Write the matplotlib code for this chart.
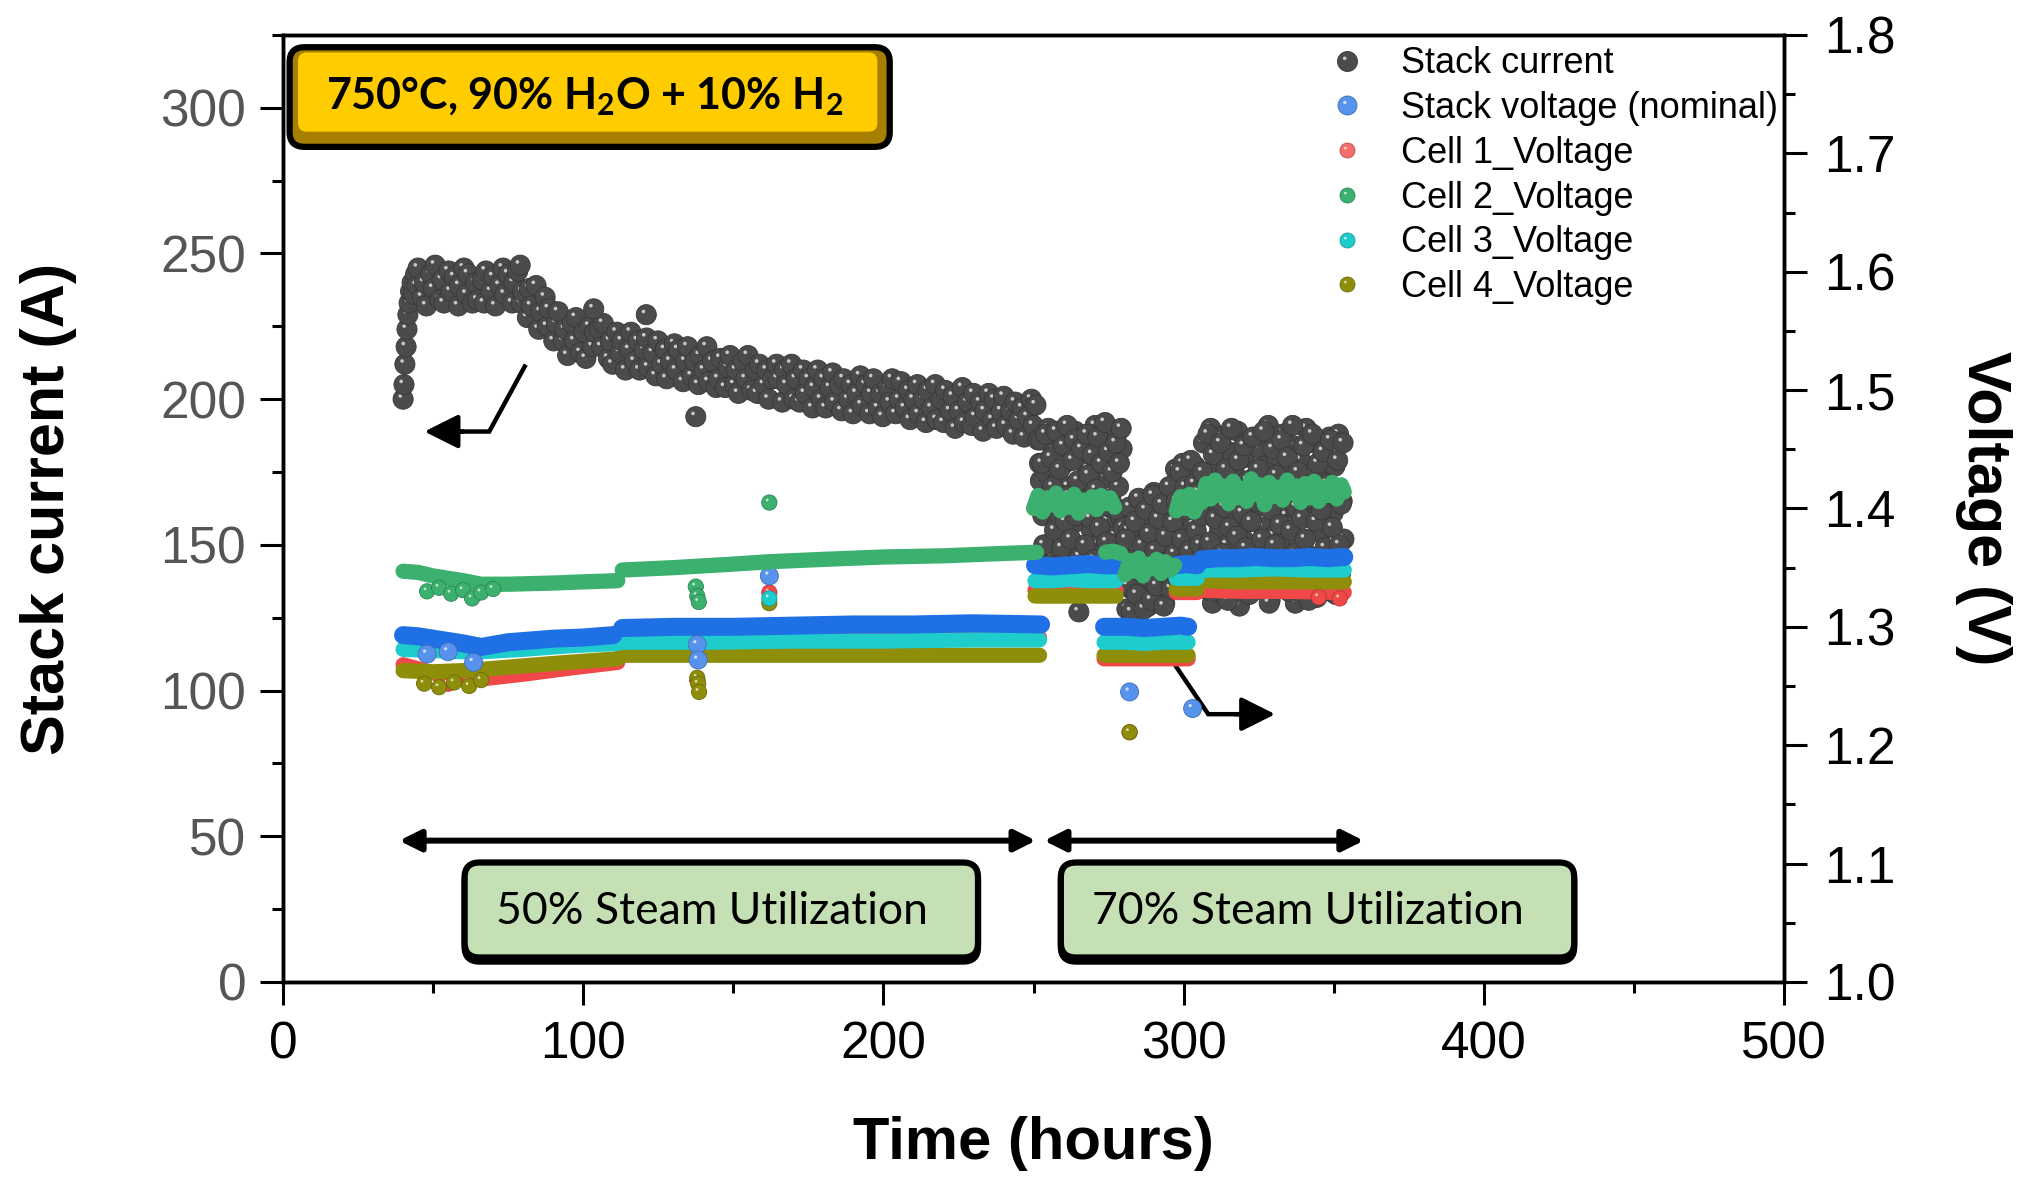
import numpy as np
import matplotlib
matplotlib.use('Agg')
import matplotlib.pyplot as plt
import matplotlib.colors as mcolors
import matplotlib.transforms as mtransforms
from matplotlib.patches import FancyBboxPatch
from matplotlib.path import Path
from matplotlib.lines import Line2D
from matplotlib.markers import MarkerStyle
from matplotlib.collections import PathCollection
from matplotlib.legend_handler import HandlerTuple
from matplotlib.ticker import MultipleLocator, FormatStrFormatter

nan = np.nan

# ---------------------------------------------------------
# data
# ---------------------------------------------------------
# stack current, 50 % steam utilisation (hours, A)
cur_time_50 = [
    40.0, 40.3, 40.6, 41.0, 41.3, 41.6, 42.0, 42.5, 43.0, 43.6, 44.2, 44.6,
    45.0, 46.4, 47.1, 47.8, 49.2, 50.1, 50.7, 52.3, 53.0, 53.6, 55.2, 55.9, 57.1, 58.4, 58.8, 60.3, 61.2, 61.7, 63.1, 64.2,
    64.8, 66.3, 67.0, 67.6, 69.4, 70.1, 70.8, 72.2, 73.3, 73.9, 75.1, 76.4, 76.9, 78.2, 79.3, 79.8, 81.4, 82.1, 82.7, 84.3,
    85.2, 85.9, 87.3, 88.0, 88.6, 90.2, 91.1, 91.7, 93.4, 94.0, 94.8, 96.3, 97.1, 97.6, 99.2, 100.3, 100.9, 102.1, 103.2, 103.8,
    105.3, 106.1, 106.7, 108.4, 109.0, 109.8, 111.2, 112.3, 112.9, 114.1, 115.4, 115.9, 117.2, 118.3, 118.8, 120.4, 121.1, 121.7, 123.3, 124.2,
    124.9, 126.2, 127.3, 127.8, 129.1, 130.4, 131.0, 131.7, 133.3, 134.1, 134.8, 136.2, 137.1, 138.4, 138.9, 140.3, 141.2, 141.8, 143.1, 144.3,
    145.1, 145.8, 147.3, 148.2, 148.9, 150.4, 151.0, 151.7, 153.3, 154.2, 154.9, 156.1, 157.4, 158.0, 158.7, 160.3, 161.2, 161.8, 163.1, 164.4,
    164.9, 166.3, 167.1, 167.8, 169.4, 170.2, 170.9, 172.1, 173.3, 173.9, 175.2, 176.4, 176.9, 178.1, 179.3, 180.2, 180.8, 182.3, 183.1, 183.8,
    185.3, 186.1, 186.8, 188.4, 189.2, 189.9, 191.1, 192.3, 192.8, 194.2, 195.4, 196.0, 196.7, 198.3, 199.1, 199.8, 201.4, 202.2, 202.9, 204.1,
    205.3, 205.9, 207.2, 208.4, 208.9, 210.1, 211.3, 211.8, 213.4, 214.2, 214.9, 216.1, 217.3, 217.8, 219.4, 220.1, 220.7, 222.3, 223.2, 223.9,
    225.2, 226.3, 226.9, 228.1, 229.4, 230.0, 230.7, 232.3, 233.2, 233.8, 235.1, 236.4, 237.0, 237.7, 239.3, 240.1, 240.8, 242.4, 243.2, 243.9,
    245.2, 246.3, 246.9, 248.1, 249.3, 249.9, 250.8, 251.5, 252.0, 252.3,
    79.0, 103.5, 121.0, 137.5]
cur_50 = [
    200, 205, 212, 218, 224, 229, 233, 237, 240, 236, 243, 239,
    245, 235, 240, 232, 243, 238, 246, 234, 241, 233, 244, 237, 242, 232, 239, 245, 236, 243, 233, 240,
    234, 241, 233, 244, 237, 242, 232, 239, 245, 236, 243, 233, 240, 244, 233, 237, 228, 238, 232, 239,
    224, 230, 235, 225, 231, 220, 226, 230, 220, 224, 215, 226, 220, 228, 216, 223, 214, 225, 218, 223,
    224, 218, 226, 214, 220, 212, 223, 216, 220, 210, 217, 223, 213, 220, 210, 217, 221, 211, 216, 208,
    220, 212, 217, 207, 213, 219, 210, 217, 206, 213, 218, 208, 213, 205, 215, 210, 218, 206, 213, 204,
    207, 214, 204, 211, 215, 205, 210, 202, 213, 207, 215, 203, 210, 202, 212, 205, 210, 200, 207, 212,
    207, 199, 210, 205, 212, 200, 207, 199, 210, 202, 207, 197, 204, 210, 200, 207, 197, 204, 209, 199,
    205, 196, 207, 200, 205, 195, 202, 208, 198, 205, 195, 202, 207, 197, 202, 194, 204, 199, 207, 195,
    200, 206, 197, 203, 193, 200, 205, 195, 200, 192, 203, 197, 205, 193, 200, 192, 203, 196, 201, 190,
    196, 204, 192, 199, 191, 202, 194, 199, 189, 196, 202, 193, 200, 190, 196, 201, 191, 196, 188, 199,
    193, 197, 187, 194, 200, 191, 198, 186, 178, 172,
    246, 231, 229, 194]

# stack current, 70 % steam utilisation (hours, A)
cur_time_70 = [
    252.5, 253.1, 253.7, 254.3, 254.9, 255.5, 256.1, 256.7, 257.3, 257.9,
    258.5, 259.1, 259.7, 260.3, 260.9, 261.5, 262.1, 262.7, 263.3, 263.9,
    264.5, 265.1, 265.7, 266.3, 266.9, 267.5, 268.1, 268.7, 269.3, 269.9,
    270.5, 271.1, 271.7, 272.3, 272.9, 273.5, 274.1, 274.7, 275.3, 275.9,
    276.5, 277.1, 277.7, 278.3, 278.9, 279.5,
    252.8, 253.4, 254.0, 254.6, 255.2, 255.8, 256.4, 257.0, 257.6, 258.2,
    258.8, 259.4, 260.0, 260.6, 261.2, 261.8, 262.4, 263.0, 263.6, 264.2,
    264.8, 265.4, 266.0, 266.6, 267.2, 267.8, 268.4, 269.0, 269.6, 270.2,
    270.8, 271.4, 272.0, 272.6, 273.2, 273.8, 274.4, 275.0, 275.6, 276.2,
    276.8, 277.4, 278.0, 278.6, 279.2, 279.8,
    280.5, 281.1, 281.7, 282.3, 282.9, 283.5, 284.1, 284.7, 285.3, 285.9,
    286.5, 287.1, 287.7, 288.3, 288.9, 289.5, 290.1, 290.7, 291.3, 291.9,
    292.5, 293.1, 293.7, 294.3, 294.9, 295.5, 296.1, 296.7, 297.3, 297.9,
    298.5, 299.1, 299.7, 300.3, 300.9, 301.5, 302.1, 302.7, 303.3, 303.9,
    304.5, 305.1,
    280.8, 281.4, 282.0, 282.6, 283.2, 283.8, 284.4, 285.0, 285.6, 286.2,
    286.8, 287.4, 288.0, 288.6, 289.2, 289.8, 290.4, 291.0, 291.6, 292.2,
    292.8, 293.4, 294.0, 294.6, 295.2, 295.8, 296.4, 297.0, 297.6, 298.2,
    298.8, 299.4, 300.0, 300.6, 301.2, 301.8, 302.4, 303.0, 303.6, 304.2,
    304.8, 305.4,
    306.0, 306.6, 307.2, 307.8, 308.4, 309.0, 309.6, 310.2, 310.8, 311.4,
    312.0, 312.6, 313.2, 313.8, 314.4, 315.0, 315.6, 316.2, 316.8, 317.4,
    318.0, 318.6, 319.2, 319.8, 320.4, 321.0, 321.6, 322.2, 322.8, 323.4,
    324.0, 324.6, 325.2, 325.8, 326.4, 327.0, 327.6, 328.2, 328.8, 329.4,
    330.0, 330.6, 331.2, 331.8, 332.4, 333.0, 333.6, 334.2, 334.8, 335.4,
    336.0, 336.6, 337.2, 337.8, 338.4, 339.0, 339.6, 340.2, 340.8, 341.4,
    342.0, 342.6, 343.2, 343.8, 344.4, 345.0, 345.6, 346.2, 346.8, 347.4,
    348.0, 348.6, 349.2, 349.8, 350.4, 351.0, 351.6, 352.2, 352.8, 353.4,
    306.3, 306.9, 307.5, 308.1, 308.7, 309.3, 309.9, 310.5, 311.1, 311.7,
    312.3, 312.9, 313.5, 314.1, 314.7, 315.3, 315.9, 316.5, 317.1, 317.7,
    318.3, 318.9, 319.5, 320.1, 320.7, 321.3, 321.9, 322.5, 323.1, 323.7,
    324.3, 324.9, 325.5, 326.1, 326.7, 327.3, 327.9, 328.5, 329.1, 329.7,
    330.3, 330.9, 331.5, 332.1, 332.7, 333.3, 333.9, 334.5, 335.1, 335.7,
    336.3, 336.9, 337.5, 338.1, 338.7, 339.3, 339.9, 340.5, 341.1, 341.7,
    342.3, 342.9, 343.5, 344.1, 344.7, 345.3, 345.9, 346.5, 347.1, 347.7,
    348.3, 348.9, 349.5, 350.1, 350.7, 351.3, 351.9, 352.5, 353.1]
cur_70 = [
    186, 160, 175, 150, 190, 168, 145, 182, 156, 172,
    138, 187, 163, 178, 152, 170, 184, 147, 166, 189,
    158, 127, 142, 181, 161, 171, 176, 185, 155, 168,
    191, 150, 177, 162, 186, 148, 173, 158, 190, 165,
    180, 153, 188, 170, 160, 183,
    178, 150, 188, 165, 143, 180, 170, 155, 189, 161,
    176, 149, 184, 158, 191, 167, 152, 179, 186, 160,
    172, 146, 183, 163, 150, 188, 174, 159, 181, 145,
    169, 187, 156, 178, 166, 192, 151, 182, 163, 175,
    147, 185, 162, 178, 190, 156,
    140, 128, 155, 135, 162, 126, 148, 138, 158, 131,
    165, 144, 152, 129, 160, 137, 168, 147, 133, 156,
    142, 166, 130, 150, 161, 139, 169, 146, 176, 155,
    172, 141, 178, 160, 150, 174, 138, 168, 157, 177,
    145, 163,
    152, 136, 163, 127, 145, 158, 133, 166, 141, 150,
    128, 162, 139, 154, 131, 167, 148, 136, 159, 144,
    164, 129, 153, 140, 170, 135, 158, 147, 165, 138,
    175, 152, 144, 170, 162, 148, 179, 141, 171, 155,
    168, 150,
    160, 185, 135, 172, 148, 190, 130, 165, 178, 142,
    155, 187, 133, 170, 150, 182, 138, 162, 175, 145,
    189, 129, 168, 152, 180, 140, 158, 186, 134, 173,
    147, 163, 183, 137, 156, 177, 144, 191, 131, 166,
    153, 181, 139, 171, 149, 188, 135, 160, 176, 143,
    157, 184, 130, 169, 151, 179, 141, 164, 190, 136,
    174, 146, 159, 185, 132, 167, 154, 180, 138, 172,
    148, 187, 134, 161, 177, 145, 188, 140, 165, 152,
    175, 142, 166, 188, 151, 134, 181, 159, 170, 138,
    185, 147, 163, 176, 131, 156, 190, 144, 168, 153,
    179, 136, 161, 184, 149, 172, 133, 158, 187, 142,
    165, 176, 139, 152, 189, 146, 170, 130, 162, 183,
    150, 174, 137, 157, 186, 143, 168, 180, 134, 155,
    191, 147, 163, 175, 138, 159, 184, 152, 170, 131,
    166, 188, 145, 158, 178, 135, 162, 182, 149, 171,
    140, 186, 156, 167, 133, 179, 150, 164, 185]

# stack voltage (nominal), runs split by nan (hours, V)
vs_time = [40, 45, 50, 55, 60, 66, 75, 90, 100, 110, nan,
           113, 130, 150, 170, 190, 210, 230, 252.5, nan,
           250.5, 256, 262, 268, 274, 277.5, nan,
           273.5, 281, 287, 293, 299, 301.5, nan,
           297.5, 301, 304.5, nan,
           306, 312, 318, 324, 330, 336, 342, 348, 353.5]
vs_volt = [1.293, 1.292, 1.290, 1.288, 1.286, 1.283, 1.287, 1.290, 1.291, 1.293, nan,
           1.299, 1.300, 1.300, 1.301, 1.302, 1.302, 1.303, 1.302, nan,
           1.352, 1.351, 1.352, 1.353, 1.352, 1.352, nan,
           1.300, 1.300, 1.299, 1.300, 1.301, 1.300, nan,
           1.352, 1.353, 1.352, nan,
           1.357, 1.358, 1.358, 1.359, 1.358, 1.358, 1.359, 1.358, 1.359]
vs_out_time = [48, 55, 63.5, 138, 138.3, 162, 282, 303]
vs_out_volt = [1.277, 1.279, 1.270, 1.285, 1.272, 1.343, 1.245, 1.231]

# cell 1
c1_time = [40, 50, 60, 66, 80, 95, 111.5, nan,
           113, 160, 200, 252, nan,
           250.5, 262, 277.5, nan,
           273.5, 287, 301.5, nan,
           297.5, 304.5, nan,
           306, 320, 335, 353.5]
c1_volt = [1.268, 1.261, 1.257, 1.256, 1.260, 1.265, 1.270, nan,
           1.286, 1.288, 1.290, 1.291, nan,
           1.331, 1.331, 1.331, nan,
           1.273, 1.273, 1.273, nan,
           1.329, 1.329, nan,
           1.331, 1.330, 1.330, 1.329]
c1_out_time = [55, 62, 138, 162, 282, 345, 352]
c1_out_volt = [1.252, 1.254, 1.255, 1.329, 1.211, 1.325, 1.324]

# cell 2
c2_time = [40, 45, 50, 55, 60, 66, 75, 90, 100, 111.5, nan,
           113, 130, 150, 162, 180, 200, 220, 240, 251, nan,
           250, 251.5, 253, 254.5, 256, 257.5, 259, 260.5, 262, 263.5,
           265, 266.5, 268, 269.5, 271, 272.5, 274, 275.5, 277, nan,
           274, 276.5, 279, nan,
           280.5, 282, 283.5, 285, 286.5, 288, 289.5, 291, 292.5, 294, 295.5, 297, nan,
           297.5, 299, 300.5, 302, 303.5, 305, nan,
           306, 307.5, 309, 310.5, 312, 313.5, 315, 316.5, 318, 319.5, 321,
           322.5, 324, 325.5, 327, 328.5, 330, 331.5, 333, 334.5, 336, 337.5,
           339, 340.5, 342, 343.5, 345, 346.5, 348, 349.5, 351, 352.5, 353.5]
c2_volt = [1.347, 1.346, 1.343, 1.341, 1.339, 1.336, 1.336, 1.337, 1.338, 1.339, nan,
           1.348, 1.350, 1.353, 1.355, 1.357, 1.359, 1.360, 1.362, 1.363, nan,
           1.400, 1.411, 1.397, 1.409, 1.403, 1.413, 1.398, 1.408, 1.401, 1.412,
           1.396, 1.407, 1.402, 1.410, 1.399, 1.411, 1.404, 1.409, 1.401, nan,
           1.363, 1.364, 1.362, nan,
           1.344, 1.356, 1.347, 1.358, 1.343, 1.353, 1.349, 1.357, 1.345, 1.355, 1.348, 1.352, nan,
           1.398, 1.410, 1.400, 1.412, 1.397, 1.406, nan,
           1.405, 1.421, 1.408, 1.424, 1.411, 1.419, 1.404, 1.423, 1.409, 1.417, 1.406,
           1.425, 1.412, 1.420, 1.403, 1.422, 1.410, 1.418, 1.407, 1.424, 1.413, 1.419,
           1.405, 1.421, 1.409, 1.423, 1.406, 1.418, 1.411, 1.422, 1.408, 1.420, 1.414]
c2_out_time = [48, 52, 56, 60, 63, 66, 70, 137.5, 138, 138.5, 162]
c2_out_volt = [1.330, 1.333, 1.328, 1.331, 1.324, 1.329, 1.332, 1.334, 1.326, 1.321, 1.405]

# cell 3
c3_time = [40, 50, 60, 66, 80, 95, 111.5, nan,
           113, 140, 170, 200, 230, 252, nan,
           250.5, 256, 262, 268, 274, 277.5, nan,
           273.5, 281, 287, 293, 299, 301.5, nan,
           297.5, 301, 304.5, nan,
           306, 318, 330, 342, 353.5]
c3_volt = [1.281, 1.280, 1.279, 1.279, 1.281, 1.284, 1.286, nan,
           1.287, 1.287, 1.288, 1.288, 1.289, 1.289, nan,
           1.339, 1.339, 1.340, 1.339, 1.339, 1.339, nan,
           1.287, 1.287, 1.286, 1.287, 1.287, 1.287, nan,
           1.341, 1.341, 1.341, nan,
           1.348, 1.348, 1.349, 1.348, 1.348]
c3_out_time = [162]
c3_out_volt = [1.324]

# cell 4
c4_time = [40, 50, 60, 66, 80, 95, 111.5, nan,
           113, 140, 170, 200, 230, 252, nan,
           250.5, 262, 277.5, nan,
           273.5, 287, 301.5, nan,
           297.5, 304.5, nan,
           306, 320, 335, 353.5]
c4_volt = [1.263, 1.262, 1.263, 1.264, 1.267, 1.270, 1.273, nan,
           1.276, 1.276, 1.276, 1.276, 1.276, 1.276, nan,
           1.326, 1.326, 1.326, nan,
           1.276, 1.276, 1.276, nan,
           1.332, 1.332, nan,
           1.339, 1.338, 1.338, 1.338]
c4_out_time = [47, 52, 57, 62, 66, 138, 138.3, 138.6, 162, 282]
c4_out_volt = [1.252, 1.249, 1.253, 1.250, 1.255, 1.257, 1.252, 1.245, 1.320, 1.211]

legend_labels = ['Stack current', 'Stack voltage (nominal)', 'Cell 1_Voltage',
                 'Cell 2_Voltage', 'Cell 3_Voltage', 'Cell 4_Voltage']

# ---------------------------------------------------------
# style
# ---------------------------------------------------------
C_CUR = '#4b4b4b'
C_VS = '#1f6fe5'
C_C1 = '#f04848'
C_C2 = '#3cb06e'
C_C3 = '#1ecccc'
C_C4 = '#8e8e0a'

plt.rcParams['font.family'] = ['Liberation Sans', 'DejaVu Sans']
plt.rcParams['mathtext.fontset'] = 'custom'
plt.rcParams['mathtext.rm'] = 'Lato'
plt.rcParams['mathtext.bf'] = 'Lato:bold'


def mix(c, w):
    r = np.array(mcolors.to_rgb(c))
    if w >= 0:
        return tuple(r + (1 - r) * w)
    return tuple(r * (1 + w))


def highlight_marker():
    # small off-centre dot, gives the "ball" look of the original
    circ = Path.circle(center=(-0.14, 0.16), radius=0.09)
    verts = np.vstack([[[0.5, 0.5], [-0.5, -0.5]], circ.vertices])
    codes = np.concatenate([[Path.MOVETO, Path.MOVETO], circ.codes])
    return Path(verts, codes)


HL = highlight_marker()
_m = MarkerStyle('o')
CIRCLE = _m.get_path().transformed(_m.get_transform())

fig = plt.figure(figsize=(20.2, 11.77), dpi=100)
ax = fig.add_axes([0.1401, 0.1657, 0.7431, 0.8046])
ax2 = ax.twinx()


def balls(axis, t, y, color, size, z):
    # ball + its highlight drawn one after another, so later balls hide earlier highlights
    pts = np.column_stack([np.asarray(t, float), np.asarray(y, float)])
    n = len(pts)
    offs = np.repeat(pts, 2, axis=0)
    fcs = [mcolors.to_rgba(color), (1, 1, 1, 0.7)] * n
    ecs = [mcolors.to_rgba(mix(color, -0.25)), (0, 0, 0, 0)] * n
    lws = [0.6, 0.0] * n
    pc = PathCollection([CIRCLE, HL], sizes=[size ** 2], offsets=offs,
                        offset_transform=axis.transData, facecolors=fcs,
                        edgecolors=ecs, linewidths=lws, zorder=z)
    pc.set_transform(mtransforms.IdentityTransform())
    axis.add_collection(pc, autolim=False)


def tube(axis, t, y, color, lw, z):
    axis.plot(t, y, color=color, lw=lw, solid_capstyle='round',
              solid_joinstyle='round', zorder=z)


# stack current on left axis
balls(ax, cur_time_50, cur_50, C_CUR, 14.5, 2)
balls(ax, cur_time_70, cur_70, C_CUR, 14.5, 2)

# voltages on right axis
tube(ax2, c1_time, c1_volt, C_C1, 11, 2)
balls(ax2, c1_out_time, c1_out_volt, C_C1, 11, 2)
tube(ax2, c4_time, c4_volt, C_C4, 11, 3)
balls(ax2, c4_out_time, c4_out_volt, C_C4, 11, 3)
tube(ax2, c3_time, c3_volt, C_C3, 11, 4)
balls(ax2, c3_out_time, c3_out_volt, C_C3, 11, 4)
tube(ax2, vs_time, vs_volt, C_VS, 13, 5)
balls(ax2, vs_out_time, vs_out_volt, mix(C_VS, 0.25), 13, 5)
tube(ax2, c2_time, c2_volt, C_C2, 11, 6)
balls(ax2, c2_out_time, c2_out_volt, C_C2, 11, 6)

# ---------------------------------------------------------
# axes
# ---------------------------------------------------------
ax.set_xlim(0, 500)
ax.set_ylim(0, 325)
ax2.set_ylim(1.0, 1.8)
ax.xaxis.set_major_locator(MultipleLocator(100))
ax.xaxis.set_minor_locator(MultipleLocator(50))
ax.yaxis.set_major_locator(MultipleLocator(50))
ax.yaxis.set_minor_locator(MultipleLocator(25))
ax2.yaxis.set_major_locator(MultipleLocator(0.1))
ax2.yaxis.set_minor_locator(MultipleLocator(0.05))
ax2.yaxis.set_major_formatter(FormatStrFormatter('%.1f'))

for a in (ax, ax2):
    for sp in a.spines.values():
        sp.set_linewidth(2.5)

ax.tick_params(which='major', direction='out', length=16.5, width=2.2, labelsize=37)
ax.tick_params(which='minor', direction='out', length=8, width=2.2)
ax.tick_params(axis='x', which='both', top=False, pad=11.5, labelcolor='black')
ax.tick_params(axis='y', which='both', right=False, pad=10, labelcolor='#555555')
ax2.tick_params(axis='y', which='major', direction='out', length=16.5, width=2.2,
                labelsize=37, pad=12.5, labelcolor='black')
ax2.tick_params(axis='y', which='minor', direction='out', length=8, width=2.2)

ax.set_xlabel('Time (hours)', fontsize=43, fontweight='bold')
ax.xaxis.set_label_coords(0.5, -0.171)
ax.xaxis.label.set_va('center')
ax.set_ylabel('Stack current (A)', fontsize=44, fontweight='bold')
ax.yaxis.set_label_coords(-0.156, 0.5)
ax.yaxis.label.set_va('center')
ax2.set_ylabel('Voltage (V)', fontsize=44, fontweight='bold', rotation=270)
ax2.yaxis.set_label_coords(1.133, 0.5)
ax2.yaxis.label.set_va('center')

# ---------------------------------------------------------
# annotations
# ---------------------------------------------------------
ax.add_patch(FancyBboxPatch((2.2, 286.6), 199.9, 34.2, boxstyle='round,pad=0,rounding_size=5',
                            fc='#a67f00', ec='black', lw=4.5, zorder=5))
ax.add_patch(FancyBboxPatch((5.0, 291.8), 193.0, 27.2, boxstyle='round,pad=0,rounding_size=3',
                            fc='#ffcc00', ec='none', zorder=5.1))
ax.text(100.5, 304.0, r'750°C, 90% H$_\mathbf{2}$O + 10% H$_\mathbf{2}$', ha='center',
        va='center', fontsize=31, fontweight='bold', family='Lato', zorder=6)

for x0, label in [(60.5, '50% Steam Utilization'), (259.1, '70% Steam Utilization')]:
    ax.add_patch(FancyBboxPatch((x0, 7.0), 171.0, 32.6, boxstyle='round,pad=0,rounding_size=5',
                                fc='black', ec='black', lw=4.5, zorder=5))
    ax.add_patch(FancyBboxPatch((x0, 8.4), 171.0, 32.6, boxstyle='round,pad=0,rounding_size=5',
                                fc='#c5e0b4', ec='black', lw=4.5, zorder=5.1))
    ax.text(x0 + 82.3, 24.2, label, ha='center', va='center', fontsize=32,
            family='Lato', zorder=6)

double = dict(arrowstyle='<|-|>,head_length=0.4,head_width=0.2', mutation_scale=32,
              lw=4.3, color='black', shrinkA=0, shrinkB=0)
ax.annotate('', xy=(250.8, 48.5), xytext=(38.7, 48.5), arrowprops=double)
ax.annotate('', xy=(360.0, 48.5), xytext=(253.5, 48.5), arrowprops=double)

bent = dict(arrowstyle='-|>,head_length=0.4,head_width=0.2', mutation_scale=52,
            lw=3.2, color='black', shrinkA=0, shrinkB=0)
ax.plot([80.5, 68.7, 58.0], [211.2, 188.9, 188.9], color='black', lw=3.2,
        solid_joinstyle='miter', zorder=4)
ax.annotate('', xy=(47.1, 188.9), xytext=(60.0, 188.9), arrowprops=bent)
ax.plot([296.6, 308.2, 319.0], [109.6, 91.9, 91.9], color='black', lw=3.2,
        solid_joinstyle='miter', zorder=4)
ax.annotate('', xy=(330.5, 91.9), xytext=(317.0, 91.9), arrowprops=bent)

# ---------------------------------------------------------
# legend
# ---------------------------------------------------------
handles = []
for color, ms in [(C_CUR, 14.4), (mix(C_VS, 0.25), 13.7), (mix(C_C1, 0.2), 10.8),
                  (C_C2, 10.8), (C_C3, 10.8), (C_C4, 10.8)]:
    base = Line2D([], [], ls='none', marker='o', ms=ms, mfc=color,
                  mec=mix(color, -0.25), mew=0.6)
    hl = Line2D([], [], ls='none', marker=HL, ms=ms, mfc='white', mec='none', alpha=0.7)
    handles.append((base, hl))
ax2.legend(handles, legend_labels, handler_map={tuple: HandlerTuple(ndivide=1)},
           loc='upper left', bbox_to_anchor=(0.6966, 0.988), frameon=False, fontsize=26,
           borderpad=0, borderaxespad=0, handlelength=1.0, handletextpad=1.0,
           labelspacing=0.27)

fig.savefig('out.png', dpi=100)
